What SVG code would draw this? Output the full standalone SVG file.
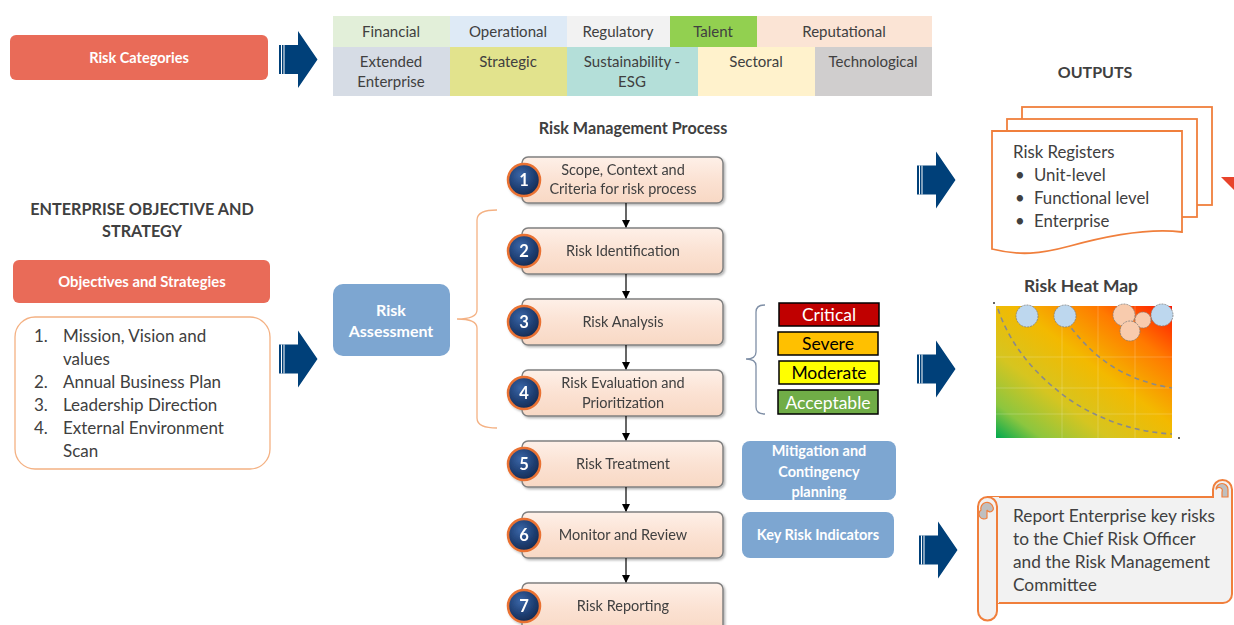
<svg xmlns="http://www.w3.org/2000/svg" width="1234" height="625" viewBox="0 0 1234 625">
<style>
.t{font-family:Lato,"Open Sans","Liberation Sans",sans-serif;fill:#404040}
.b{font-weight:bold}
.w{fill:#fff}
.c{text-anchor:middle}
.cell{stroke:none}
.pbox{fill:url(#pg);stroke:#808080;stroke-width:1.5}
.num{fill:url(#ng);stroke:#E97132;stroke-width:2.5}
.flow{stroke:#000;stroke-width:1.2;fill:none;marker-end:url(#ah)}
.lvl{stroke:#000;stroke-width:1.5}
.blue{fill:#7DA6D1}
.red{fill:#E96B58}
</style>
<defs>
<marker id="ah" markerWidth="8" markerHeight="8" refX="7" refY="4" orient="auto" markerUnits="userSpaceOnUse">
<path d="M0,0 L8,4 L0,8 Z" fill="#000"/>
</marker>
<linearGradient id="pg" x1="0" y1="0" x2="0" y2="1">
<stop offset="0" stop-color="#FEF0E8"/>
<stop offset="0.5" stop-color="#FBE2D3"/>
<stop offset="1" stop-color="#F8D8C4"/>
</linearGradient>
<radialGradient id="ng" cx="0.4" cy="0.35" r="0.7">
<stop offset="0" stop-color="#3A66A8"/>
<stop offset="0.6" stop-color="#1F3F73"/>
<stop offset="1" stop-color="#14284D"/>
</radialGradient>
<linearGradient id="hm" x1="0" y1="1" x2="1" y2="0">
<stop offset="0" stop-color="#00A94F"/>
<stop offset="0.13" stop-color="#8CC63F"/>
<stop offset="0.32" stop-color="#D6C520"/>
<stop offset="0.55" stop-color="#F3B900"/>
<stop offset="0.78" stop-color="#FF7A00"/>
<stop offset="1" stop-color="#FF1500"/>
</linearGradient>
<filter id="sh" x="-5%" y="-10%" width="115%" height="130%">
<feDropShadow dx="1.5" dy="1.5" stdDeviation="1" flood-color="#000" flood-opacity="0.3"/>
</filter>
<g id="bigarrow">
<path d="M0,-14.5 H19 V-28.5 L38.5,0 L19,28.5 V14.5 H0 Z" fill="#004079"/>
<rect x="2" y="-14.5" width="1" height="29" fill="#fff"/>
<rect x="4.5" y="-14.5" width="1" height="29" fill="#fff"/>
</g>
</defs>
<rect width="1234" height="625" fill="#fff"/>

<!-- Risk categories -->
<g id="risk-categories">
<rect class="red" x="10" y="35" width="258" height="45" rx="6"/>
<text class="t b w c" x="139" y="63" font-size="14.5">Risk Categories</text>
</g>

<g id="category-table" font-size="15">
<rect class="cell" x="333" y="16" width="117" height="31" fill="#E2EFD9"/>
<rect class="cell" x="450" y="16" width="117" height="31" fill="#DEEAF6"/>
<rect class="cell" x="567" y="16" width="103" height="31" fill="#F2F2F2"/>
<rect class="cell" x="670" y="16" width="87" height="31" fill="#92D050"/>
<rect class="cell" x="757" y="16" width="175" height="31" fill="#FBE4D5"/>
<rect class="cell" x="333" y="47" width="117" height="49" fill="#D6DCE5"/>
<rect class="cell" x="450" y="47" width="117" height="49" fill="#E2E38D"/>
<rect class="cell" x="567" y="47" width="131" height="49" fill="#B4DFD9"/>
<rect class="cell" x="698" y="47" width="117" height="49" fill="#FFF2CC"/>
<rect class="cell" x="815" y="47" width="117" height="49" fill="#D0CECE"/>
<text class="t c" x="391" y="37">Financial</text>
<text class="t c" x="508" y="37">Operational</text>
<text class="t c" x="618" y="37">Regulatory</text>
<text class="t c" x="713" y="37">Talent</text>
<text class="t c" x="844" y="37">Reputational</text>
<text class="t c" x="391" y="67">Extended</text>
<text class="t c" x="391" y="87">Enterprise</text>
<text class="t c" x="508" y="67">Strategic</text>
<text class="t c" x="632" y="67">Sustainability -</text>
<text class="t c" x="632" y="87">ESG</text>
<text class="t c" x="756" y="67">Sectoral</text>
<text class="t c" x="873" y="67">Technological</text>
</g>

<!-- Enterprise objective -->
<g id="enterprise-title">
<text class="t b c" x="142" y="215" font-size="16.2">ENTERPRISE OBJECTIVE AND</text>
<text class="t b c" x="142" y="237" font-size="16.2">STRATEGY</text>
</g>
<g id="objectives">
<rect class="red" x="13" y="260" width="257" height="43" rx="6"/>
<text class="t b w c" x="142" y="287" font-size="14.8">Objectives and Strategies</text>
</g>
<g id="objective-list" font-size="17">
<rect x="15" y="317" width="255" height="152" rx="20" fill="#fff" stroke="#F4B183" stroke-width="1.3"/>
<text class="t" x="34" y="342">1.</text><text class="t" x="63" y="342">Mission, Vision and</text>
<text class="t" x="63" y="365">values</text>
<text class="t" x="34" y="388">2.</text><text class="t" x="63" y="388">Annual Business Plan</text>
<text class="t" x="34" y="411">3.</text><text class="t" x="63" y="411">Leadership Direction</text>
<text class="t" x="34" y="434">4.</text><text class="t" x="63" y="434">External Environment</text>
<text class="t" x="63" y="457">Scan</text>
</g>

<!-- Risk assessment -->
<g id="risk-assessment">
<rect class="blue" x="333" y="284" width="117" height="72" rx="10"/>
<text class="t b w c" x="391" y="316" font-size="16">Risk</text>
<text class="t b w c" x="391" y="337" font-size="16">Assessment</text>
</g>

<!-- Process -->
<g id="process-title"><text class="t b c" x="633" y="134" font-size="16.2">Risk Management Process</text></g>

<g id="step1" filter="url(#sh)">
<rect class="pbox" x="522" y="157" width="201" height="46" rx="6"/>
<circle class="num" cx="524" cy="180" r="16"/>
<text class="t b w c" x="524" y="186" font-size="16.5">1</text>
<text class="t c" x="623" y="175" font-size="14.5">Scope, Context and</text>
<text class="t c" x="623" y="194" font-size="14.5">Criteria for risk process</text>
</g>
<g id="step2" filter="url(#sh)">
<rect class="pbox" x="522" y="228" width="201" height="46" rx="6"/>
<circle class="num" cx="524" cy="251" r="16"/>
<text class="t b w c" x="524" y="257" font-size="16.5">2</text>
<text class="t c" x="623" y="256" font-size="14.5">Risk Identification</text>
</g>
<g id="step3" filter="url(#sh)">
<rect class="pbox" x="522" y="299" width="201" height="46" rx="6"/>
<circle class="num" cx="524" cy="322" r="16"/>
<text class="t b w c" x="524" y="328" font-size="16.5">3</text>
<text class="t c" x="623" y="327" font-size="14.5">Risk Analysis</text>
</g>
<g id="step4" filter="url(#sh)">
<rect class="pbox" x="522" y="370" width="201" height="46" rx="6"/>
<circle class="num" cx="524" cy="393" r="16"/>
<text class="t b w c" x="524" y="399" font-size="16.5">4</text>
<text class="t c" x="623" y="388" font-size="14.5">Risk Evaluation and</text>
<text class="t c" x="623" y="408" font-size="14.5">Prioritization</text>
</g>
<g id="step5" filter="url(#sh)">
<rect class="pbox" x="522" y="441" width="201" height="46" rx="6"/>
<circle class="num" cx="524" cy="464" r="16"/>
<text class="t b w c" x="524" y="470" font-size="16.5">5</text>
<text class="t c" x="623" y="469" font-size="14.5">Risk Treatment</text>
</g>
<g id="step6" filter="url(#sh)">
<rect class="pbox" x="522" y="512" width="201" height="46" rx="6"/>
<circle class="num" cx="524" cy="535" r="16"/>
<text class="t b w c" x="524" y="541" font-size="16.5">6</text>
<text class="t c" x="623" y="540" font-size="14.5">Monitor and Review</text>
</g>
<g id="step7" filter="url(#sh)">
<rect class="pbox" x="522" y="583" width="201" height="50" rx="6"/>
<circle class="num" cx="524" cy="606" r="16"/>
<text class="t b w c" x="524" y="612" font-size="16.5">7</text>
<text class="t c" x="623" y="611" font-size="14.5">Risk Reporting</text>
</g>

<!-- Risk levels -->
<g id="risk-levels" font-size="17.5">
<rect class="lvl" x="779" y="303" width="100" height="23" fill="#C00000"/>
<text class="t w c" x="829" y="320.5">Critical</text>
<rect class="lvl" x="778" y="332" width="100" height="23" fill="#FFC000"/>
<text class="t c" x="828" y="349.5" style="fill:#000">Severe</text>
<rect class="lvl" x="779" y="361" width="100" height="23" fill="#FFFF00"/>
<text class="t c" x="829" y="378.5" style="fill:#000">Moderate</text>
<rect class="lvl" x="778" y="390" width="100" height="24" fill="#70AD47"/>
<text class="t w c" x="828" y="408.5">Acceptable</text>
</g>

<g id="mitigation">
<rect class="blue" x="742" y="441" width="154" height="59" rx="8"/>
<text class="t b w c" x="819" y="456" font-size="14.5">Mitigation  and</text>
<text class="t b w c" x="819" y="477" font-size="14.5">Contingency</text>
<text class="t b w c" x="819" y="497" font-size="14.5">planning</text>
</g>
<g id="kri">
<rect class="blue" x="742" y="512" width="152" height="46" rx="8"/>
<text class="t b w c" x="818" y="540" font-size="14.5">Key Risk Indicators</text>
</g>

<!-- Outputs -->
<g id="outputs-title"><text class="t b c" x="1095" y="78" font-size="16">OUTPUTS</text></g>
<g id="risk-registers">
<rect x="1022" y="107" width="190" height="98" fill="#fff" stroke="#F07F3C" stroke-width="1.8"/>
<rect x="1007" y="119" width="190" height="98" fill="#fff" stroke="#F07F3C" stroke-width="1.8"/>
<path d="M992,131 H1182 V232 C1150,228 1110,235 1070,246 C1040,254 1020,256 992,249 Z" fill="#fff" stroke="#F07F3C" stroke-width="1.8"/>
<text class="t" x="1013" y="158" font-size="16.8">Risk Registers</text>
<text class="t" x="1015" y="181" font-size="16.8">•</text><text class="t" x="1034" y="181" font-size="16.8">Unit-level</text>
<text class="t" x="1015" y="204" font-size="16.8">•</text><text class="t" x="1034" y="204" font-size="16.8">Functional level</text>
<text class="t" x="1015" y="227" font-size="16.8">•</text><text class="t" x="1034" y="227" font-size="16.8">Enterprise</text>
</g>
<g id="red-marker"><path d="M1221,177 L1234,177 L1234,190 Z" fill="#E8432B"/></g>

<!-- Heat map -->
<g id="heat-map">
<text class="t b c" x="1081" y="292" font-size="17.5">Risk Heat Map</text>
<rect x="996" y="306" width="176" height="132" fill="url(#hm)"/>
<g stroke="#fff" stroke-opacity="0.25" stroke-width="0.8">
<line x1="1062" y1="306" x2="1062" y2="438"/>
<line x1="1098" y1="306" x2="1098" y2="438"/>
<line x1="1135" y1="306" x2="1135" y2="438"/>
<line x1="996" y1="357" x2="1172" y2="357"/>
<line x1="996" y1="388" x2="1172" y2="388"/>
<line x1="996" y1="414" x2="1172" y2="414"/>
</g>
<g fill="none" stroke="#8A8A8A" stroke-width="1.6" stroke-dasharray="5,4">
<path d="M998,309 C1010,345 1035,375 1070,400 C1100,420 1135,432 1172,434"/>
<path d="M1066,321 C1080,340 1095,356 1115,368 C1135,380 1155,385 1172,388"/>
</g>
<g stroke="#7F7F7F" stroke-width="0.8" stroke-dasharray="2,1">
<circle cx="1027" cy="316" r="11" fill="#BDD7EE"/>
<circle cx="1065" cy="316" r="11" fill="#BDD7EE"/>
<circle cx="1162" cy="315" r="11" fill="#BDD7EE"/>
<circle cx="1124" cy="315" r="11" fill="#F8CBAD"/>
<circle cx="1143" cy="320" r="8" fill="#F8CBAD"/>
<circle cx="1130" cy="331" r="10" fill="#F8CBAD"/>
</g>
<circle cx="994" cy="303" r="1" fill="#333"/>
<circle cx="1179" cy="438" r="1" fill="#333"/>
</g>

<!-- Report scroll -->
<g id="report">
<path d="M987,497 H1213 V489.5 A9.5,9.5 0 0 1 1232,489.5 V594 A9,9 0 0 1 1223,603 H997" fill="#F2F2F2" stroke="#F07F3C" stroke-width="2"/>
<rect x="987" y="497" width="12" height="106" fill="#F2F2F2"/>
<path d="M978,506.5 A9.5,9.5 0 0 1 997,506.5 V611 A9.5,9.5 0 0 1 978,611 Z" fill="#F2F2F2" stroke="#F07F3C" stroke-width="2"/>
<path d="M981,510 A6,6 0 0 1 993,507 A3,3 0 0 1 987,510 V518 A5,5 0 0 1 981,510 Z" fill="#BFBFBF" stroke="#F07F3C" stroke-width="1.2"/>
<path d="M1216,489.5 A6,6 0 0 1 1228,489.5 V497 H1222 V492 A3,3 0 0 0 1216,489.5 Z" fill="#BFBFBF" stroke="#F07F3C" stroke-width="1.2"/>
<text class="t" x="1013" y="522" font-size="17.3">Report Enterprise key risks</text>
<text class="t" x="1013" y="545" font-size="17.3">to the Chief Risk Officer</text>
<text class="t" x="1013" y="568" font-size="17.3">and the Risk Management</text>
<text class="t" x="1013" y="591" font-size="17.3">Committee</text>
</g>

<!-- Connectors -->
<g id="connectors">
<use href="#bigarrow" x="279" y="59.5"/>
<use href="#bigarrow" x="279" y="359"/>
<use href="#bigarrow" x="917" y="180"/>
<use href="#bigarrow" x="917" y="369"/>
<use href="#bigarrow" x="919" y="550"/>
<line class="flow" x1="626" y1="203" x2="626" y2="227"/>
<line class="flow" x1="626" y1="274" x2="626" y2="298"/>
<line class="flow" x1="626" y1="345" x2="626" y2="369"/>
<line class="flow" x1="626" y1="416" x2="626" y2="440"/>
<line class="flow" x1="626" y1="487" x2="626" y2="511"/>
<line class="flow" x1="626" y1="558" x2="626" y2="582"/>
<path d="M497,210 C485,210 477,212 477,220 V310 C477,316 470,319 457,319 C470,319 477,322 477,328 V418 C477,426 485,428 497,428" fill="none" stroke="#F4B183" stroke-width="1.3"/>
<path d="M765,305 C759,305 756,307 756,312 V352 C756,357 752,359 746,359 C752,359 756,361 756,366 V407 C756,412 759,414 765,414" fill="none" stroke="#7F8FA6" stroke-width="1.3"/>
</g>
</svg>
